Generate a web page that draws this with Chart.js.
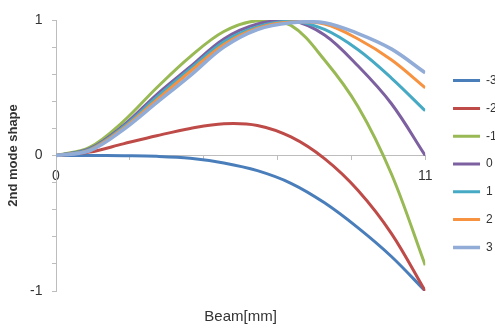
<!DOCTYPE html>
<html>
<head>
<meta charset="utf-8">
<script src="https://cdn.jsdelivr.net/npm/chart.js@4/dist/chart.umd.min.js"></script>
<style>
  html, body { margin: 0; padding: 0; background: #fff; }
  #wrap { width: 495px; height: 328px; }
</style>
</head>
<body>
<div id="wrap"><canvas id="modeChart" width="495" height="328"></canvas></div>
<script>
// beam positions (mm)
const xValues = [0, 1, 2, 3, 4, 5, 6, 7, 8, 9, 10, 11];
const seriesLabels = ['-3', '-2', '-1', '0', '1', '2', '3'];

// 2nd mode shape, one array per series
const shapeM3 = [0, 0, -0.002, -0.006, -0.02, -0.055, -0.112, -0.205, -0.349, -0.534, -0.747, -1];
const shapeM2 = [0, 0.025, 0.086, 0.146, 0.2, 0.235, 0.222, 0.137, -0.023, -0.258, -0.578, -1];
const shapeM1 = [0, 0.06, 0.25, 0.5, 0.73, 0.915, 0.995, 0.96, 0.705, 0.36, -0.14, -0.81];
const shape0 = [0, 0.05, 0.22, 0.45, 0.655, 0.86, 0.97, 0.997, 0.89, 0.66, 0.38, 0];
const shapeP1 = [0, 0.045, 0.21, 0.43, 0.64, 0.84, 0.95, 0.99, 0.93, 0.78, 0.57, 0.33];
const shapeP2 = [0, 0.04, 0.2, 0.41, 0.62, 0.82, 0.94, 0.985, 0.97, 0.86, 0.705, 0.5];
const shapeP3 = [0, 0.035, 0.19, 0.39, 0.59, 0.8, 0.93, 0.98, 0.98, 0.9, 0.785, 0.61];

const allShapes = [shapeM3, shapeM2, shapeM1, shape0, shapeP1, shapeP2, shapeP3];
const lineColors = ['#4a7ebb', '#be4b48', '#98b954', '#7d60a0', '#46aac5', '#f69240', '#92acd8'];

const axisGray = '#bdbdbd';
const textColor = '#333333';

Chart.defaults.font.family = "'Liberation Sans', Arial, sans-serif";
Chart.defaults.color = textColor;

const datasets = allShapes.map((vals, i) => ({
  label: seriesLabels[i],
  data: vals.map((v, k) => ({ x: xValues[k], y: v })),
  borderColor: lineColors[i],
  backgroundColor: lineColors[i],
  borderWidth: i === 6 ? 3.5 : 3,
  pointRadius: 0,
  tension: 0.35,
  order: allShapes.length - i // later series on top, like the original
}));

const ctx = document.getElementById('modeChart');
new Chart(ctx, {
  type: 'line',
  data: { datasets: datasets },
  options: {
    responsive: false,
    animation: false,
    events: [],
    layout: { padding: { left: 0, right: -11.7, top: 0, bottom: 0 } },
    plugins: {
      tooltip: { enabled: false },
      // empty title, only used as top spacing
      title: { display: true, text: '', padding: 0, font: { size: 10, lineHeight: 2 } },
      legend: {
        display: true,
        position: 'right',
        labels: {
          usePointStyle: true,
          pointStyle: 'line',
          pointStyleWidth: 27,
          padding: 15.8,
          color: textColor,
          font: { size: 12 },
          sort: (a, b) => a.datasetIndex - b.datasetIndex
        }
      }
    },
    scales: {
      x: {
        type: 'linear',
        position: { y: 0 },
        min: 0,
        max: 11,
        ticks: {
          stepSize: 2.2,
          autoSkip: false,
          maxRotation: 0,
          padding: 8,
          font: { size: 14 },
          color: textColor,
          callback: v => (v === 0 || v === 11) ? String(v) : ''
        },
        grid: { drawOnChartArea: false, tickLength: 4, color: axisGray },
        border: { color: axisGray }
      },
      // bottom axis only carries the title
      xTitle: {
        type: 'linear',
        position: 'bottom',
        min: 0,
        max: 11,
        grid: { display: false, drawTicks: false },
        border: { display: false },
        ticks: { display: false },
        title: { display: true, text: 'Beam[mm]', color: textColor, font: { size: 15 }, padding: { top: 0, bottom: 2 } },
        afterFit: s => { s.height = 37; }
      },
      y: {
        type: 'linear',
        position: 'left',
        min: -1,
        max: 1,
        ticks: {
          stepSize: 0.2,
          padding: 9.5,
          font: { size: 14 },
          color: textColor,
          callback: v => (v === -1 || v === 0 || v === 1) ? String(v) : ''
        },
        grid: { drawOnChartArea: false, tickLength: 4, color: axisGray },
        border: { color: axisGray },
        title: { display: true, text: '2nd mode shape', color: textColor, font: { size: 13, weight: 'bold' }, padding: { top: 6, bottom: 0 } },
        afterFit: s => { s.width = 56; }
      },
      // gap between plot and legend
      yGap: {
        type: 'linear',
        position: 'right',
        grid: { display: false, drawTicks: false },
        border: { display: false },
        ticks: { display: false },
        afterFit: s => { s.width = 12; }
      }
    }
  }
});
</script>
</body>
</html>
